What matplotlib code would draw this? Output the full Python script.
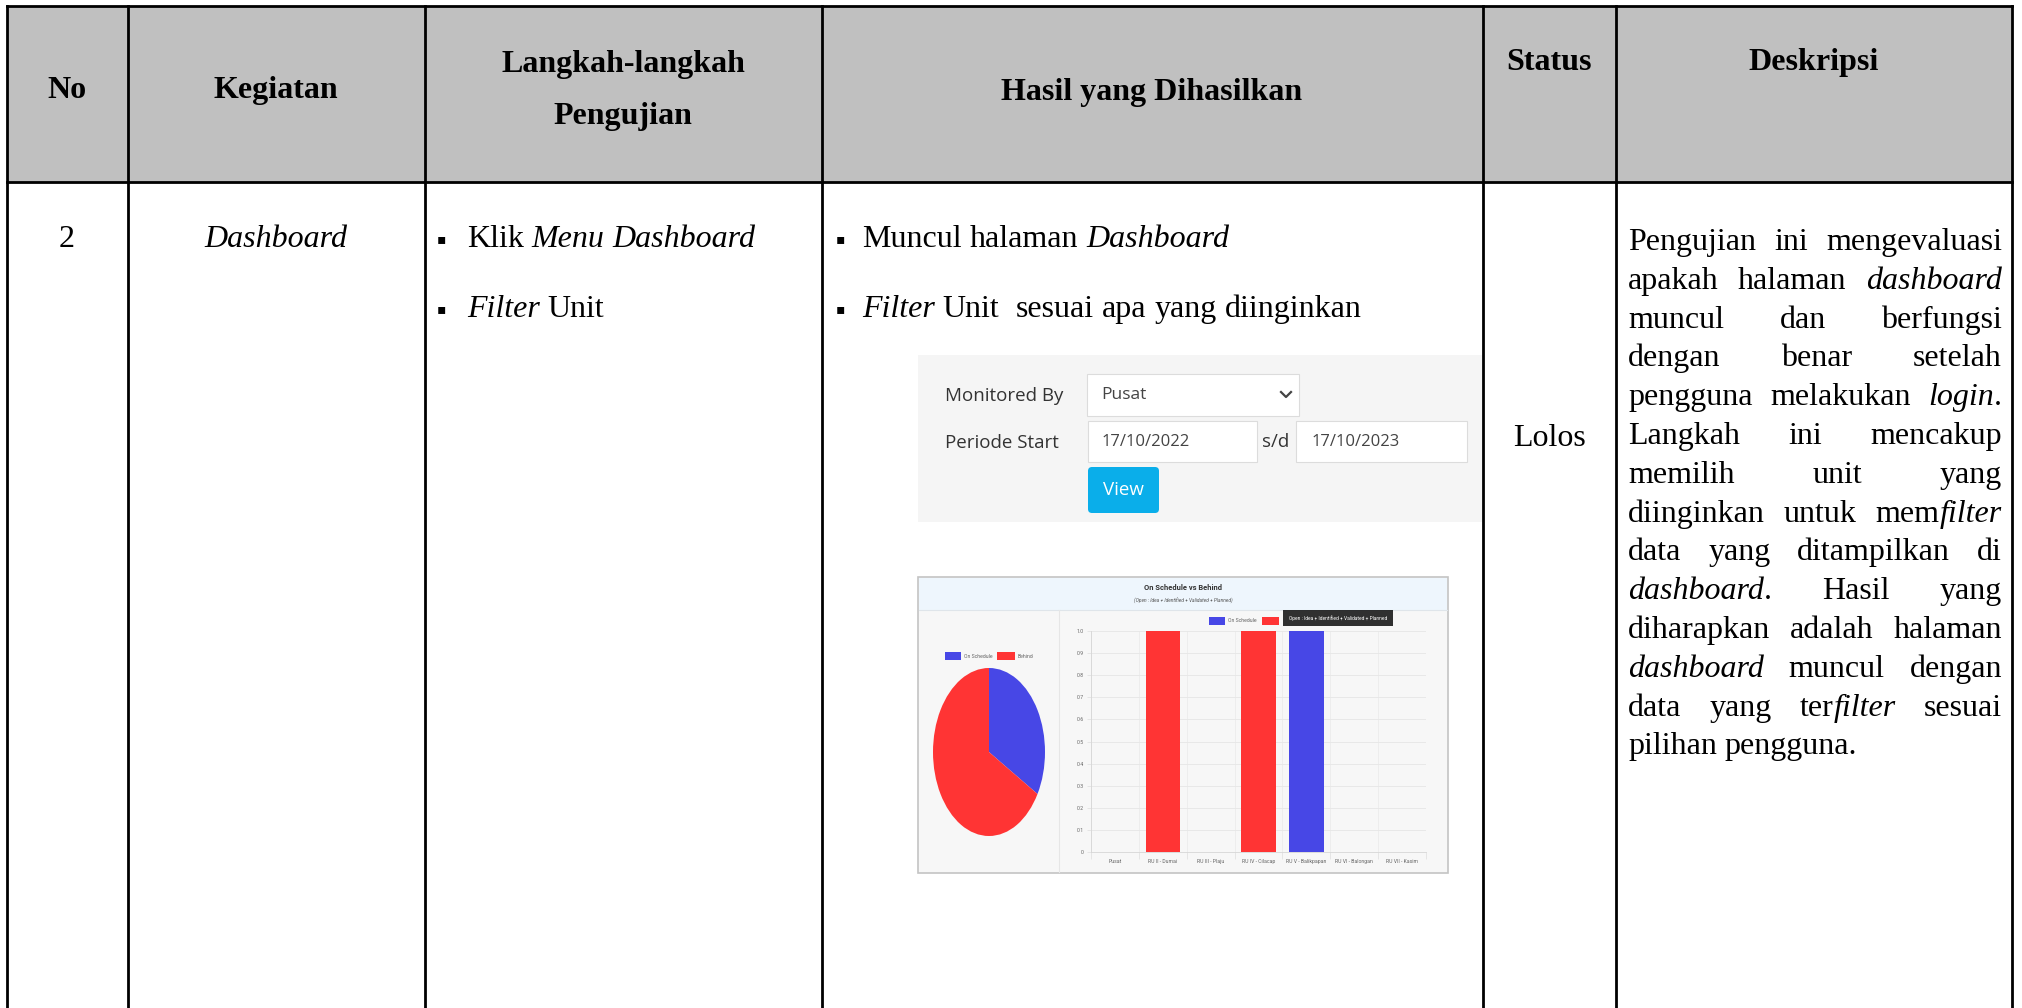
import matplotlib
matplotlib.use("Agg")
import matplotlib.pyplot as plt
from matplotlib.patches import Rectangle, FancyBboxPatch

# ---- data shown in the embedded dashboard screenshot ----
units = ["Pusat", "RU II - Dumai", "RU III - Plaju", "RU IV - Cilacap",
         "RU V - Balikpapan", "RU VI - Balongan", "RU VII - Kasim"]
on_schedule = [0, 0, 0, 0, 1, 0, 0]
behind = [0, 1, 0, 1, 0, 0, 0]
pie_labels = ["On Schedule", "Behind"]
pie_values = [1, 2]
y_ticks = [0, 0.1, 0.2, 0.3, 0.4, 0.5, 0.6, 0.7, 0.8, 0.9, 1.0]
y_tick_labels = ["0", "0.1", "0.2", "0.3", "0.4", "0.5", "0.6", "0.7", "0.8", "0.9", "1.0"]

# ---- table text ----
headers = ["No", "Kegiatan", "Langkah-langkah\nPengujian", "Hasil yang Dihasilkan", "Status", "Deskripsi"]
row_no = "2"
row_kegiatan = "Dashboard"
langkah = ["Klik *Menu Dashboard*", "*Filter* Unit"]
hasil = ["Muncul halaman *Dashboard*", "*Filter* Unit  sesuai apa yang diinginkan"]
status = "Lolos"
deskripsi = ["Pengujian ini mengevaluasi",
             "apakah halaman *dashboard*",
             "muncul dan berfungsi",
             "dengan benar setelah",
             "pengguna melakukan *login*.",
             "Langkah ini mencakup",
             "memilih unit yang",
             "diinginkan untuk mem*filter*",
             "data yang ditampilkan di",
             "*dashboard*. Hasil yang",
             "diharapkan adalah halaman",
             "*dashboard* muncul dengan",
             "data yang ter*filter* sesuai",
             "pilihan pengguna."]

W, H = 2022, 1008
fig = plt.figure(figsize=(W / 100, H / 100), dpi=100)
ax = fig.add_axes([0, 0, 1, 1])
ax.set_xlim(0, W)
ax.set_ylim(H, 0)
ax.axis("off")
r = fig.canvas.get_renderer()

SERIF = "Liberation Serif"
FS = 23
BLUE = "#4747e6"
RED = "#ff3434"


def frect(x0, y0, x1, y1):
    return [x0 / W, 1 - y1 / H, (x1 - x0) / W, (y1 - y0) / H]


def text_w(s, style="normal", size=FS):
    t = ax.text(0, 0, s, fontsize=size, family=SERIF, style=style)
    w = t.get_window_extent(r).width
    t.remove()
    return w


def parse(line):
    words, ital = [], False
    for w in line.split(" "):
        segs = []
        for i, part in enumerate(w.split("*")):
            if i > 0:
                ital = not ital
            if part:
                segs.append((part, ital))
        words.append(segs)
    return words


def word_w(segs):
    return sum(text_w(s, "italic" if it else "normal") for s, it in segs)


def draw_word(x, y, segs):
    for s, it in segs:
        st = "italic" if it else "normal"
        ax.text(x, y, s, fontsize=FS, family=SERIF, style=st, ha="left", va="baseline", zorder=5)
        x += text_w(s, st)
    return x


SPACE = FS * 100 / 72 * 0.25


def draw_line(x, y, line):
    for segs in parse(line):
        if not segs:
            x += SPACE
            continue
        x = draw_word(x, y, segs) + SPACE


def justify(x0, x1, y, line):
    words = parse(line)
    ws = [word_w(s) for s in words]
    gap = (x1 - x0 - sum(ws)) / max(len(words) - 1, 1)
    x = x0
    for segs, w in zip(words, ws):
        draw_word(x, y, segs)
        x += w + gap


# ---- table frame ----
cols = [7, 128, 425, 822, 1483, 1616, 2012]
ax.add_patch(Rectangle((7, 6), 2005, 176, fc="#c0c0c0", ec="none", zorder=1))
for yy in [6, 182]:
    ax.plot([7, 2012], [yy, yy], color="black", lw=2, zorder=10, solid_capstyle="projecting")
for xx in cols:
    ax.plot([xx, xx], [6, H], color="black", lw=2, zorder=10, solid_capstyle="projecting")

# header labels
hdr = dict(fontsize=FS, family=SERIF, weight="bold", ha="center", va="baseline", zorder=5)
ax.text(67, 98, headers[0], **hdr)
ax.text(276, 98, headers[1], **hdr)
ax.text(623, 72, "Langkah-langkah", **hdr)
ax.text(623, 124, "Pengujian", **hdr)
ax.text(1152, 100, headers[3], **hdr)
ax.text(1549, 70, headers[4], **hdr)
ax.text(1814, 70, headers[5], **hdr)

# row contents
y1, y2 = 247, 317
ax.text(67, y1, row_no, fontsize=FS, family=SERIF, ha="center", va="baseline")
ax.text(276, y1, row_kegiatan, fontsize=FS, family=SERIF, style="italic", ha="center", va="baseline")
for yy, line in zip([y1, y2], langkah):
    ax.text(437, yy - 8, "\u25aa", fontsize=10, family="DejaVu Sans", ha="left", va="center")
    draw_line(467, yy, line)
for yy, line in zip([y1, y2], hasil):
    ax.text(836, yy - 8, "\u25aa", fontsize=10, family="DejaVu Sans", ha="left", va="center")
    draw_line(862, yy, line)
ax.text(1549, 446, status, fontsize=FS, family=SERIF, ha="center", va="baseline")

L, R = 1628, 2002
for i, line in enumerate(deskripsi):
    yy = 250 + i * 38.8
    if i == len(deskripsi) - 1:
        draw_line(L, yy, line)
    else:
        justify(L, R, yy, line)

# ---- filter form screenshot ----
SANS = "Open Sans"
ax.add_patch(Rectangle((918, 355), 564, 167, fc="#f5f5f5", ec="none", zorder=2))
ax.text(945, 396, "Monitored By", fontsize=13.5, family=SANS, color="#333333", va="center", zorder=3)
ax.text(945, 443, "Periode Start", fontsize=13.5, family=SANS, color="#333333", va="center", zorder=3)
for x0, y0, x1, y1b in [(1087, 374, 1299, 416), (1088, 421, 1257, 462), (1296, 421, 1467, 462)]:
    ax.add_patch(Rectangle((x0, y0), x1 - x0, y1b - y0, fc="white", ec="#dcdcdc", lw=0.8, zorder=3))
ax.text(1101, 395, "Pusat", fontsize=12.5, family=SANS, color="#444444", va="center", zorder=4)
ax.plot([1281, 1286, 1291], [392, 397, 392], color="#444444", lw=1.6, zorder=4)
ax.text(1102, 442, "17/10/2022", fontsize=12, family=SANS, color="#444444", va="center", zorder=4)
ax.text(1276, 442, "s/d", fontsize=13.5, family=SANS, color="#333333", va="center", ha="center", zorder=4)
ax.text(1312, 442, "17/10/2023", fontsize=12, family=SANS, color="#444444", va="center", zorder=4)
ax.add_patch(FancyBboxPatch((1088, 467), 71, 46, boxstyle="round,pad=0,rounding_size=4",
                            fc="#0aaeea", ec="none", zorder=3))
ax.text(1123, 490, "View", fontsize=13.5, family=SANS, color="white", va="center", ha="center", zorder=4)

# ---- chart screenshot ----
CF = "Roboto"
ax.add_patch(Rectangle((918, 577), 530, 296, fc="#f7f7f7", ec="#c4c4c4", lw=1.2, zorder=2))
ax.add_patch(Rectangle((919, 578), 528, 32, fc="#eef6fd", ec="none", zorder=2))
ax.plot([919, 1447], [610, 610], color="#dfe5ea", lw=0.8, zorder=3)
ax.plot([1059, 1059], [610, 872], color="#e6e6e6", lw=0.8, zorder=3)
ax.text(1183, 588, "On Schedule vs Behind", fontsize=5.4, family=CF, weight="bold",
        color="#333333", ha="center", va="center", zorder=4)
ax.text(1183, 601, "(Open : Idea + Identified + Validated + Planned)", fontsize=3.5, family=CF,
        style="italic", color="#555555", ha="center", va="center", zorder=4)

# pie legend
ax.add_patch(Rectangle((945, 652), 16, 8, fc=BLUE, ec="none", zorder=4))
ax.text(964, 656, pie_labels[0], fontsize=3.7, family=CF, color="#666666", va="center", zorder=4)
ax.add_patch(Rectangle((997, 652), 18, 8, fc=RED, ec="none", zorder=4))
ax.text(1018, 656, pie_labels[1], fontsize=3.7, family=CF, color="#666666", va="center", zorder=4)

# bar legend + tooltip
ax.add_patch(Rectangle((1209, 617), 16, 8, fc=BLUE, ec="none", zorder=4))
ax.text(1228, 621, pie_labels[0], fontsize=3.7, family=CF, color="#666666", va="center", zorder=4)
ax.add_patch(Rectangle((1262, 617), 17, 8, fc=RED, ec="none", zorder=4))
ax.add_patch(Rectangle((1283, 610), 110, 16, fc="#1a1a1a", ec="none", alpha=0.9, zorder=6))
ax.text(1338, 618, "Open : Idea + Identified + Validated + Planned", fontsize=3.5, family=CF,
        color="white", ha="center", va="center", zorder=7)

# pie chart (stretched into an ellipse like the screenshot)
axp = fig.add_axes(frect(933, 668, 1045, 836))
axp.pie(pie_values, colors=[BLUE, RED], startangle=90, counterclock=False,
        wedgeprops=dict(linewidth=0))
axp.set_aspect("auto")
axp.set_xlim(-1, 1)
axp.set_ylim(-1, 1)
axp.axis("off")

# stacked bar chart
axb = fig.add_axes(frect(1091, 631, 1426, 852))
axb.patch.set_visible(False)
x = list(range(len(units)))
axb.bar(x, on_schedule, width=0.72, color=BLUE, zorder=3)
axb.bar(x, behind, bottom=on_schedule, width=0.72, color=RED, zorder=3)
axb.set_xlim(-0.5, len(units) - 0.5)
axb.set_ylim(0, 1.0)
axb.set_yticks(y_ticks)
axb.set_yticklabels(y_tick_labels, fontsize=3.7, family=CF, color="#666666")
axb.set_xticks(x)
axb.set_xticklabels(units, fontsize=3.7, family=CF, color="#666666")
axb.set_xticks([i - 0.5 for i in range(len(units) + 1)], minor=True)
axb.tick_params(axis="x", which="major", length=0, pad=5)
axb.tick_params(axis="x", which="minor", length=5, color="#e2e2e2", width=0.6)
axb.tick_params(axis="y", length=3, color="#e2e2e2", width=0.6, pad=2)
axb.grid(axis="y", color="#e6e6e6", lw=0.6, zorder=0)
axb.grid(axis="x", which="minor", color="#ececec", lw=0.6, zorder=0)
for s in ["top", "right"]:
    axb.spines[s].set_visible(False)
for s in ["left", "bottom"]:
    axb.spines[s].set_color("#d6d6d6")
    axb.spines[s].set_linewidth(0.6)

fig.savefig("out.png", dpi=100)
